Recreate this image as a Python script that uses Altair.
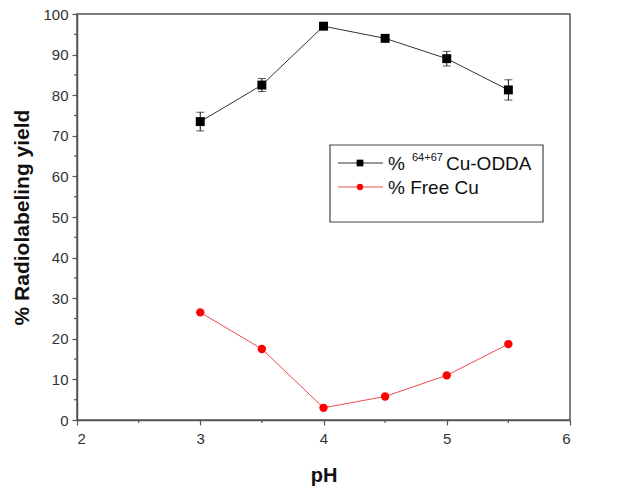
import altair as alt
import pandas as pd

# pH values and measured yields
ph = [3.0, 3.5, 4.0, 4.5, 5.0, 5.5]
cu_odda = [73.5, 82.5, 97.0, 94.0, 89.0, 81.3]
cu_odda_err = [2.3, 1.6, 0.5, 0.8, 1.8, 2.5]
free_cu = [26.5, 17.5, 3.0, 5.8, 11.0, 18.7]

x_major = [2, 3, 4, 5, 6]
x_minor = [2.5, 3.5, 4.5, 5.5]
y_major = list(range(0, 101, 10))
y_minor = list(range(5, 100, 10))

df = pd.DataFrame({
    "pH": ph,
    "odda": cu_odda,
    "lo": [v - e for v, e in zip(cu_odda, cu_odda_err)],
    "hi": [v + e for v, e in zip(cu_odda, cu_odda_err)],
    "free": free_cu,
})

FONT = "Liberation Sans"
W, H = 493, 406
AXIS_GREY = "#555555"

x_scale = alt.Scale(domain=[2, 6], nice=False, zero=False)
y_scale = alt.Scale(domain=[0, 100], nice=False)

x = alt.X(
    "pH:Q", scale=x_scale,
    axis=alt.Axis(
        title="pH", values=x_major, format="d", tickSize=5,
        grid=False, titleFontSize=20, titleFontWeight="bold",
        titleY=55, titleBaseline="middle", labelPadding=6,
    ),
)
y = alt.Y(
    "odda:Q", scale=y_scale,
    axis=alt.Axis(
        title="% Radiolabeling yield", values=y_major, format="d", tickSize=5,
        grid=False, titleFontSize=21, titleFontWeight="bold",
        titleX=-55, titleY=H / 2, titleAngle=-90, titleBaseline="middle",
        titleAlign="center", labelPadding=4,
    ),
)

base = alt.Chart(df)

odda_line = base.mark_line(color="#333333", strokeWidth=1).encode(x=x, y=y)
err_rule = base.mark_rule(color="#111111", strokeWidth=1).encode(
    x="pH:Q", y="lo:Q", y2="hi:Q"
)
cap_lo = base.mark_tick(color="#111111", thickness=1, size=8, orient="horizontal").encode(
    x="pH:Q", y="lo:Q"
)
cap_hi = base.mark_tick(color="#111111", thickness=1, size=8, orient="horizontal").encode(
    x="pH:Q", y="hi:Q"
)
odda_pts = base.mark_point(shape="square", filled=True, color="#000000", size=80, opacity=1).encode(
    x="pH:Q", y="odda:Q"
)
free_line = base.mark_line(color="#f04a4a", strokeWidth=1).encode(
    x="pH:Q", y="free:Q"
)
free_pts = base.mark_point(shape="circle", filled=True, color="#ff0000", size=70, opacity=1).encode(
    x="pH:Q", y="free:Q"
)

# minor ticks at the half steps
minor_x = alt.Chart(pd.DataFrame({"m": x_minor})).mark_rule(color=AXIS_GREY, strokeWidth=1.2).encode(
    x=alt.X("m:Q", scale=x_scale), y=alt.value(H), y2=alt.value(H + 3)
)
minor_y = alt.Chart(pd.DataFrame({"m": y_minor})).mark_rule(color=AXIS_GREY, strokeWidth=1.2).encode(
    y=alt.Y("m:Q", scale=y_scale), x=alt.value(0), x2=alt.value(-3)
)

# hand-built legend box
one = alt.Data(values=[{}])
leg_box = alt.Chart(one).mark_rect(fill="white", stroke="#444444", strokeWidth=1.2).encode(
    x=alt.value(253), x2=alt.value(466), y=alt.value(131), y2=alt.value(208)
)
row1, row2 = 149, 173
leg_l1 = alt.Chart(one).mark_rule(color="#333333", strokeWidth=1).encode(
    x=alt.value(261), x2=alt.value(306), y=alt.value(row1)
)
leg_p1 = alt.Chart(one).mark_point(shape="square", filled=True, color="#000000", size=45, opacity=1).encode(
    x=alt.value(283), y=alt.value(row1)
)
leg_l2 = alt.Chart(one).mark_rule(color="#f04a4a", strokeWidth=1).encode(
    x=alt.value(261), x2=alt.value(306), y=alt.value(row2)
)
leg_p2 = alt.Chart(one).mark_point(shape="circle", filled=True, color="#ff0000", size=40, opacity=1).encode(
    x=alt.value(283), y=alt.value(row2)
)

def label(txt, xpos, ypos, size):
    return alt.Chart(one).mark_text(
        text=txt, font=FONT, fontSize=size, color="#111111", align="left", baseline="alphabetic"
    ).encode(x=alt.value(xpos), y=alt.value(ypos))

leg_t1a = label("%", 311, row1 + 7, 19)
leg_t1b = label("64+67", 335, row1 - 2, 11)
leg_t1c = label("Cu-ODDA", 369, row1 + 7, 19)
leg_t2 = label("% Free Cu", 311, row2 + 7, 19)

chart = alt.layer(
    odda_line, err_rule, cap_lo, cap_hi, odda_pts, free_line, free_pts, minor_x, minor_y,
    leg_box, leg_l1, leg_p1, leg_l2, leg_p2, leg_t1a, leg_t1b, leg_t1c, leg_t2,
).properties(
    width=W, height=H,
    autosize=alt.AutoSizeParams(type="none"),
    padding={"left": 77, "top": 14, "right": 69, "bottom": 70},
    background="white",
).configure_view(
    stroke=AXIS_GREY, strokeWidth=1.5
).configure_axis(
    domainColor=AXIS_GREY, domainWidth=1.5, tickColor=AXIS_GREY, tickWidth=1.2,
    labelFont=FONT, labelFontSize=15, labelColor="#333333",
    titleFont=FONT, titleColor="#111111",
)

chart.save("out.html", embed_options={"renderer": "svg", "actions": False})
